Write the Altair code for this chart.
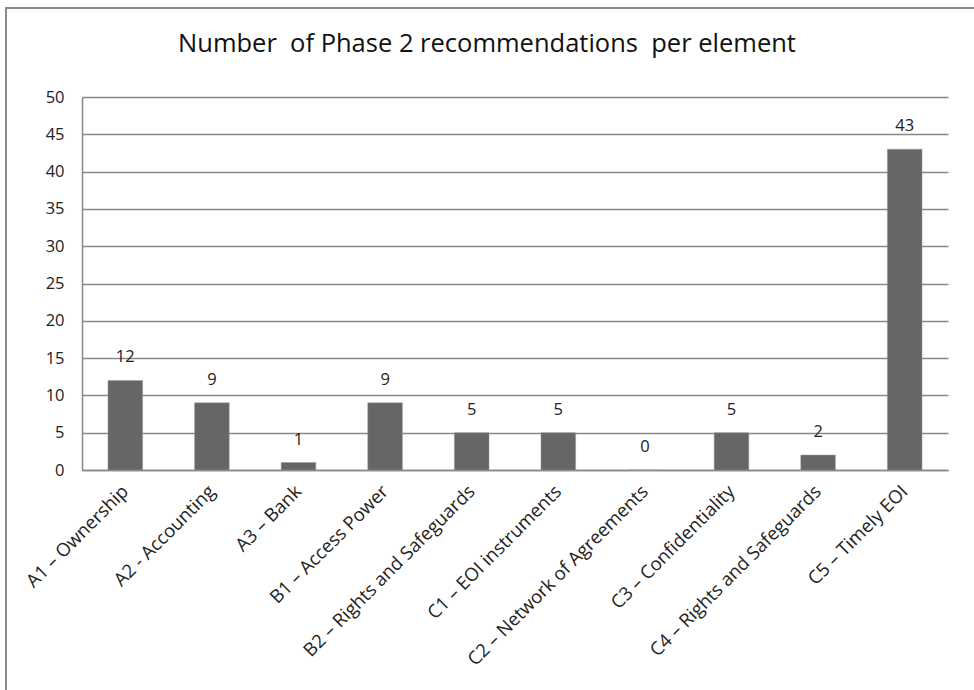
import altair as alt
import pandas as pd

categories = [
    "A1 – Ownership",
    "A2 - Accounting",
    "A3 – Bank",
    "B1 – Access Power",
    "B2 – Rights and Safeguards",
    "C1 – EOI instruments",
    "C2 – Network of Agreements",
    "C3 – Confidentiality",
    "C4 – Rights and Safeguards",
    "C5 – Timely EOI",
]
counts = [12, 9, 1, 9, 5, 5, 0, 5, 2, 43]
y_ticks = [0, 5, 10, 15, 20, 25, 30, 35, 40, 45, 50]
title_text = "Number\u00a0 of Phase 2 recommendations\u00a0 per element"

df = pd.DataFrame({"element": categories, "count": counts})

FONT = "Open Sans"
GRAY = "#888888"
TXT = "#222222"

x_enc = alt.X(
    "element:N",
    sort=categories,
    title=None,
    scale=alt.Scale(paddingInner=0.6, paddingOuter=0.3),
    axis=alt.Axis(
        labelAngle=-45,
        labelAlign="right",
        labelBaseline="middle",
        labelPadding=18,
        ticks=False,
        labelFontSize=18.5,
        labelFont=FONT,
        labelColor=TXT,
        domainColor=GRAY,
        domainWidth=1.5,
        labelLimit=400,
        labelOverlap=False,
    ),
)
y_enc = alt.Y(
    "count:Q",
    title=None,
    scale=alt.Scale(domain=[0, 50], nice=False),
    axis=alt.Axis(
        values=y_ticks,
        ticks=False,
        labelPadding=18,
        labelFontSize=16.5,
        labelFont=FONT,
        labelColor=TXT,
        labelOverlap=False,
        domainColor=GRAY,
        domainWidth=1.5,
        gridColor=GRAY,
        gridWidth=1.5,
    ),
)

bars = alt.Chart(df).mark_bar(color="#666666", stroke="#999999", strokeWidth=0.5).encode(x=x_enc, y=y_enc)

labels = alt.Chart(df).mark_text(
    dy=-23, baseline="middle", fontSize=16.5, font=FONT, color=TXT
).encode(x=x_enc, y=y_enc, text="count:Q")

frame_left = alt.Chart(alt.Data(values=[{}])).mark_rule(
    stroke=GRAY, strokeWidth=2
).encode(x=alt.value(-76), y=alt.value(-89), y2=alt.value(720))

frame_top = alt.Chart(alt.Data(values=[{}])).mark_rule(
    stroke=GRAY, strokeWidth=2
).encode(x=alt.value(-77), x2=alt.value(1000), y=alt.value(-89))

title = alt.Chart(alt.Data(values=[{"t": title_text}])).mark_text(
    fontSize=25.5, font=FONT, color="#111111", align="center", baseline="middle"
).encode(text="t:N", x=alt.value(405), y=alt.value(-53))

chart = (
    alt.layer(frame_left, frame_top, bars, labels, title)
    .properties(
        width=866,
        height=373,
        autosize=alt.AutoSizeParams(type="none"),
        padding={"left": 82, "top": 97, "right": 26, "bottom": 220},
    )
    .configure_view(stroke=None)
)

chart.save("out.html", embed_options={"renderer": "svg", "actions": False})
